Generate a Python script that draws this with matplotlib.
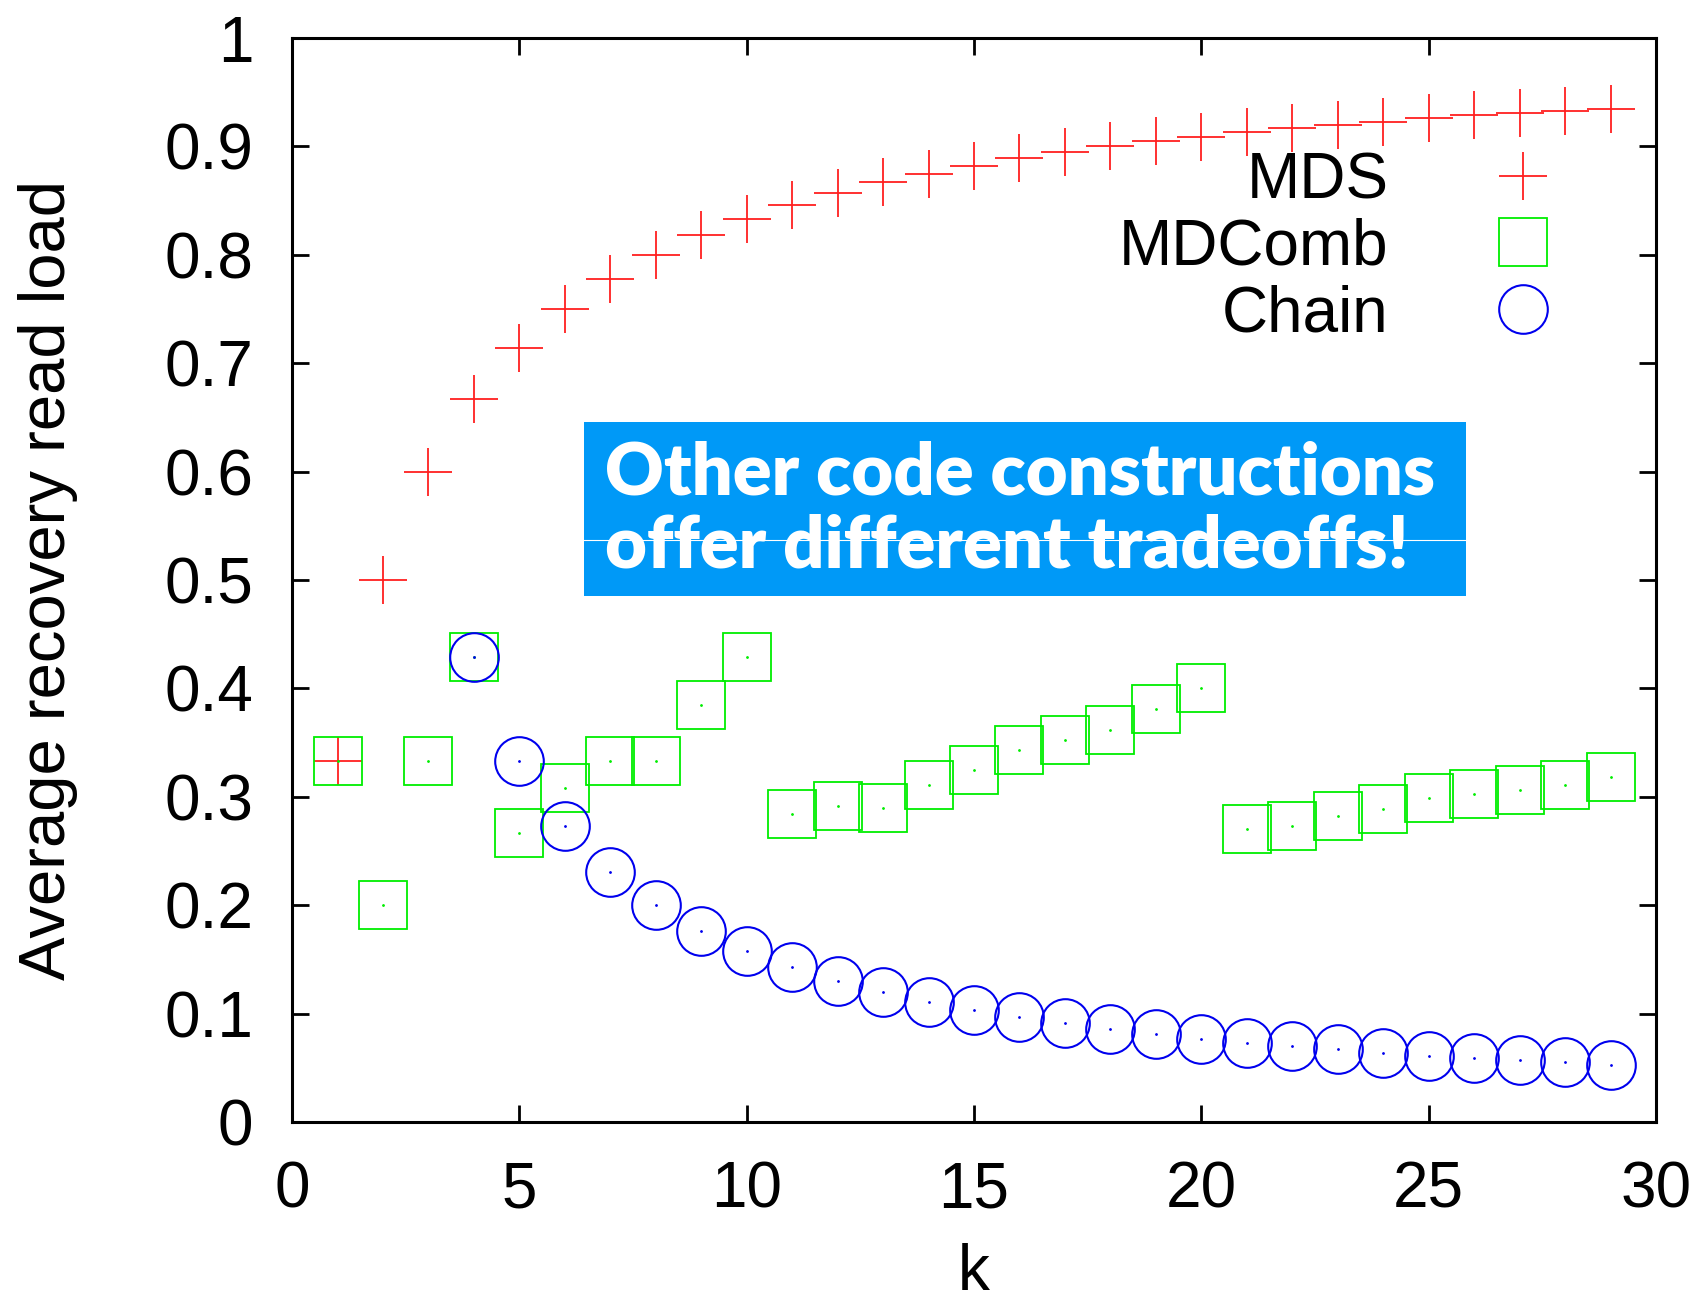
"""
Average recovery read load vs k for MDS, MDComb and Chain codes.
"""
import numpy as np
import matplotlib.pyplot as plt
from matplotlib.patches import Rectangle
from matplotlib.lines import Line2D

K_MDS = list(range(1, 30))
MDS = [0.333, 0.500, 0.600, 0.667, 0.714, 0.750, 0.778, 0.800, 0.818, 0.833,
       0.846, 0.857, 0.867, 0.875, 0.882, 0.889, 0.895, 0.900, 0.905, 0.909,
       0.913, 0.917, 0.920, 0.923, 0.926, 0.929, 0.931, 0.933, 0.935]

K_COMB = list(range(1, 30))
MDCOMB = [0.333, 0.200, 0.333, 0.429, 0.267, 0.308, 0.333, 0.333, 0.385, 0.429,
          0.284, 0.292, 0.290, 0.311, 0.325, 0.343, 0.352, 0.362, 0.381, 0.400,
          0.270, 0.273, 0.282, 0.289, 0.299, 0.303, 0.306, 0.311, 0.318]

K_CHAIN = list(range(4, 30))
CHAIN = [0.429, 0.333, 0.273, 0.231, 0.200, 0.176, 0.158, 0.143, 0.130, 0.120,
         0.111, 0.103, 0.097, 0.091, 0.086, 0.081, 0.077, 0.073, 0.070, 0.067,
         0.064, 0.061, 0.059, 0.057, 0.055, 0.053]

X_TICKS = [0, 5, 10, 15, 20, 25, 30]
Y_TICKS = [0, 0.1, 0.2, 0.3, 0.4, 0.5, 0.6, 0.7, 0.8, 0.9, 1]
Y_TICK_LABELS = ["0", "0.1", "0.2", "0.3", "0.4", "0.5", "0.6", "0.7", "0.8", "0.9", "1"]

NOTE = "Other code constructions\noffer different tradeoffs!"

FONT = ["Liberation Sans", "DejaVu Sans"]
MS = 35


def main():
    plt.rcParams["font.family"] = FONT
    fig = plt.figure(figsize=(17.03, 13.12), dpi=100)
    ax = fig.add_axes([0.1715, 0.1448, 0.8009, 0.8262])

    ax.plot(K_MDS, MDS, ls="none", marker="+", ms=MS, mew=1.3,
            color="#ff2020", label="MDS")
    ax.plot(K_COMB, MDCOMB, ls="none", marker="s", ms=MS, mew=1.3,
            mfc="none", mec="#00ee00", label="MDComb")
    ax.plot(K_CHAIN, CHAIN, ls="none", marker="o", ms=MS, mew=1.5,
            mfc="none", mec="#0000ee", label="Chain")
    # tiny centre dots, gnuplot style
    ax.plot(K_COMB, MDCOMB, ls="none", marker=".", ms=2, color="#00ee00")
    ax.plot(K_CHAIN, CHAIN, ls="none", marker=".", ms=2, color="#0000ee")

    ax.set_xlim(0, 30)
    ax.set_ylim(0, 1)
    ax.set_xticks(X_TICKS)
    ax.set_yticks(Y_TICKS)
    ax.set_yticklabels(Y_TICK_LABELS)
    ax.tick_params(direction="in", length=12, width=2, labelsize=46,
                   top=True, right=True, pad=28)
    for sp in ax.spines.values():
        sp.set_linewidth(2.2)

    ax.set_xlabel("k", fontsize=46, labelpad=16)
    ax.set_ylabel("Average recovery read load", fontsize=47, labelpad=62)

    ax.legend(loc="upper right", bbox_to_anchor=(0.949, 0.925), frameon=False,
              markerfirst=False, fontsize=46, handlelength=1.0,
              handletextpad=1.6, labelspacing=0.1, borderpad=0)

    # callout box
    fig.add_artist(Rectangle((0.3429, 0.5457), 0.5179, 0.1326,
                             transform=fig.transFigure, fc="#0099f7", ec="none"))
    fig.add_artist(Line2D([0.3429, 0.8608], [0.5884, 0.5884],
                          transform=fig.transFigure, color="white", lw=0.8))
    fig.text(0.3553, 0.6113, NOTE, color="white", fontsize=52,
             fontweight="heavy", family=["Lato", "DejaVu Sans"],
             va="center", ha="left", linespacing=1.12)

    fig.savefig("out.png", dpi=100)
    plt.close(fig)


if __name__ == "__main__":
    main()
